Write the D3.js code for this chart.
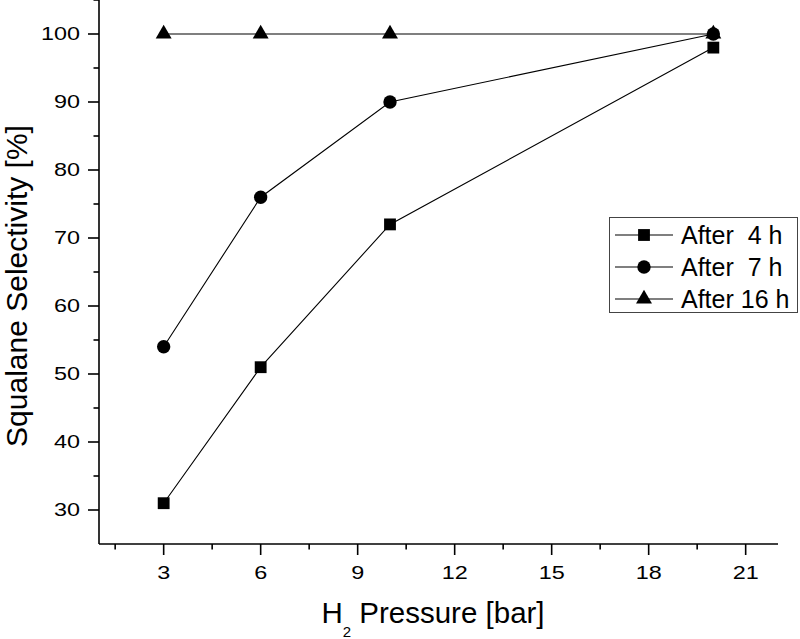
<!DOCTYPE html>
<html>
<head>
<meta charset="utf-8">
<script src="https://cdn.jsdelivr.net/npm/d3@7"></script>
<style>
  html, body { margin: 0; padding: 0; background: #fff; }
  svg { display: block; font-family: Arial, "Liberation Sans", Helvetica, sans-serif; }
</style>
</head>
<body>
<svg id="chart" width="800" height="639"></svg>
<script>
// ---- data ----
const pressures = [3, 6, 10, 20];
const after4h = [31, 51, 72, 98];
const after7h = [54, 76, 90, 100];
const after16h = [100, 100, 100, 100];
const seriesNames = ["After  4 h", "After  7 h", "After 16 h"];
const seriesSymbols = ["square", "circle", "triangle"];
const xTicks = [3, 6, 9, 12, 15, 18, 21];
const xMinorTicks = [1.5, 4.5, 7.5, 10.5, 13.5, 16.5, 19.5];
const yTicks = [30, 40, 50, 60, 70, 80, 90, 100];
const yMinorTicks = [35, 45, 55, 65, 75, 85, 95, 105];
const xTitle = "Pressure [bar]";
const yTitle = "Squalane Selectivity [%]";

const series = [
  { name: seriesNames[0], sym: seriesSymbols[0], values: after4h },
  { name: seriesNames[1], sym: seriesSymbols[1], values: after7h },
  { name: seriesNames[2], sym: seriesSymbols[2], values: after16h }
];

const svg = d3.select("#chart");
const x = d3.scaleLinear().domain([1, 22]).range([99, 778]);
const y = d3.scaleLinear().domain([25, 105]).range([544, 0]);

const symType = { square: d3.symbolSquare, circle: d3.symbolCircle, triangle: d3.symbolTriangle };
const symSize = { square: 140, circle: 140, triangle: 110 };
function symPath(s) { return d3.symbol().type(symType[s]).size(symSize[s])(); }

const tickScaleX = 1.3;
const tickFont = 18;

// ---- axes ----
const xAxis = svg.append("g").attr("transform", `translate(0,${y(25)})`);
xAxis.append("line").attr("x1", x(1)).attr("x2", x(22)).attr("y1", 0).attr("y2", 0)
  .attr("stroke", "#000").attr("stroke-width", 1.6);
xAxis.selectAll("line.maj").data(xTicks).join("line").attr("class", "maj")
  .attr("x1", d => x(d)).attr("x2", d => x(d)).attr("y1", 0).attr("y2", 11)
  .attr("stroke", "#000").attr("stroke-width", 1.6);
xAxis.selectAll("line.min").data(xMinorTicks).join("line").attr("class", "min")
  .attr("x1", d => x(d)).attr("x2", d => x(d)).attr("y1", 0).attr("y2", 5.5)
  .attr("stroke", "#000").attr("stroke-width", 1.6);
xAxis.selectAll("text").data(xTicks).join("text")
  .attr("transform", d => `translate(${x(d)},34.5) scale(${tickScaleX},1)`)
  .attr("text-anchor", "middle")
  .attr("font-size", tickFont).text(d => d);

const yAxis = svg.append("g").attr("transform", `translate(${x(1)},0)`);
yAxis.append("line").attr("x1", 0).attr("x2", 0).attr("y1", y(25)).attr("y2", y(105))
  .attr("stroke", "#000").attr("stroke-width", 1.6);
yAxis.selectAll("line.maj").data(yTicks).join("line").attr("class", "maj")
  .attr("x1", -11).attr("x2", 0).attr("y1", d => y(d)).attr("y2", d => y(d))
  .attr("stroke", "#000").attr("stroke-width", 1.6);
yAxis.selectAll("line.min").data(yMinorTicks).join("line").attr("class", "min")
  .attr("x1", -5.5).attr("x2", 0).attr("y1", d => y(d)).attr("y2", d => y(d))
  .attr("stroke", "#000").attr("stroke-width", 1.6);
yAxis.selectAll("text").data(yTicks).join("text")
  .attr("transform", d => `translate(-19,${y(d)}) scale(${tickScaleX},1)`)
  .attr("dy", "0.36em").attr("text-anchor", "end")
  .attr("font-size", tickFont).text(d => d);

// ---- titles ----
const xt = svg.append("text").attr("x", 433).attr("y", 623).attr("text-anchor", "middle")
  .attr("font-size", 29.5);
xt.append("tspan").text("H");
xt.append("tspan").attr("font-size", 15).attr("dy", 14).text("2");
xt.append("tspan").attr("dy", -14).text(" " + xTitle);

svg.append("text").attr("transform", "translate(27,286) rotate(-90)")
  .attr("text-anchor", "middle").attr("font-size", 30).text(yTitle);

// ---- series ----
const line = d3.line().x((d, i) => x(pressures[i])).y(d => y(d));
const drawOrder = [series[2], series[1], series[0]];
drawOrder.forEach(s => {
  svg.append("path").attr("d", line(s.values)).attr("fill", "none")
    .attr("stroke", "#000").attr("stroke-width", 1.1);
});
drawOrder.forEach(s => {
  svg.selectAll(null).data(s.values).join("path")
    .attr("d", symPath(s.sym))
    .attr("transform", (d, i) => `translate(${x(pressures[i])},${y(d)})`)
    .attr("fill", "#000");
});

// ---- legend ----
const lg = svg.append("g");
lg.append("rect").attr("x", 609.5).attr("y", 217.5).attr("width", 188).attr("height", 95)
  .attr("fill", "#fff").attr("stroke", "#444").attr("stroke-width", 1);
series.forEach((s, i) => {
  const cy = 235 + i * 32;
  lg.append("line").attr("x1", 615).attr("x2", 673).attr("y1", cy).attr("y2", cy)
    .attr("stroke", "#000").attr("stroke-width", 1.1);
  lg.append("path").attr("d", symPath(s.sym)).attr("transform", `translate(644,${cy})`).attr("fill", "#000");
  lg.append("text").attr("x", 681).attr("y", cy).attr("dy", "0.36em")
    .attr("font-size", 25).style("white-space", "pre").text(s.name);
});
</script>
</body>
</html>
